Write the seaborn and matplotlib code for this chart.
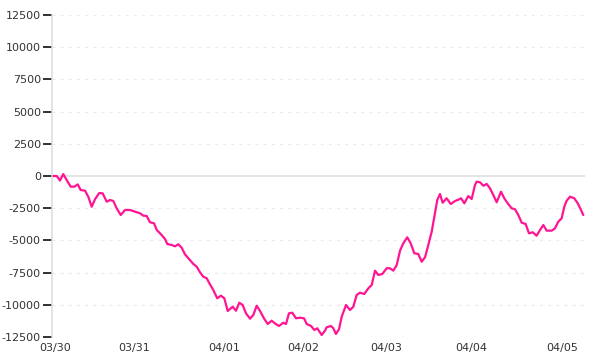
import matplotlib
matplotlib.use("Agg")
import matplotlib.pyplot as plt
import seaborn as sns
import pandas as pd

# time in days since 03/30 00:00 (approx.), value
t = [-0.02, 0.02, 0.059, 0.098, 0.138, 0.186, 0.228, 0.269, 0.304, 0.355, 0.394, 0.434,
     0.473, 0.524, 0.564, 0.612, 0.651, 0.690, 0.730, 0.778, 0.828, 0.888, 0.947, 1.006,
     1.045, 1.085, 1.124, 1.172, 1.204, 1.254, 1.302, 1.329, 1.381, 1.420, 1.459, 1.499,
     1.538, 1.589, 1.637, 1.677, 1.716, 1.755, 1.795, 1.834, 1.873, 1.920, 1.964, 2.004,
     2.044, 2.103, 2.142, 2.181, 2.221, 2.260, 2.308, 2.347, 2.387, 2.426, 2.473, 2.517,
     2.564, 2.612, 2.651, 2.702, 2.734, 2.769, 2.808, 2.852, 2.899, 2.947, 2.979, 3.030,
     3.069, 3.104, 3.156, 3.195, 3.215, 3.266, 3.294, 3.325, 3.361, 3.393, 3.444, 3.491,
     3.530, 3.570, 3.609, 3.660, 3.708, 3.748, 3.787, 3.826, 3.873, 3.925, 3.964, 4.004,
     4.044, 4.083, 4.122, 4.169, 4.209, 4.252, 4.299, 4.339, 4.379, 4.418, 4.458, 4.497,
     4.524, 4.556, 4.588, 4.635, 4.683, 4.734, 4.785, 4.805, 4.844, 4.891, 4.931, 4.970,
     4.990, 5.030, 5.069, 5.109, 5.148, 5.187, 5.227, 5.278, 5.317, 5.357, 5.405, 5.444,
     5.483, 5.523, 5.570, 5.609, 5.653, 5.700, 5.740, 5.779, 5.819, 5.878, 5.917, 5.956,
     5.996, 6.027, 6.055, 6.095, 6.145, 6.186, 6.225, 6.252]
value = [0, 0, -350, 150, -310, -830, -830, -650, -1090, -1140, -1610, -2385,
         -1810, -1320, -1345, -1995, -1865, -1940, -2510, -3030, -2640, -2640, -2770, -2895,
         -3080, -3105, -3595, -3670, -4190, -4525, -4890, -5280, -5355, -5460, -5300, -5565,
         -6080, -6465, -6830, -7040, -7475, -7820, -7940, -8410, -8850, -9495, -9295, -9495,
         -10480, -10150, -10460, -9835, -10015, -10660, -11080, -10790, -10070, -10480, -11050, -11490,
         -11235, -11490, -11645, -11390, -11490, -10660, -10615, -11050, -11000, -11050, -11490, -11645,
         -11955, -11825, -12345, -12010, -11745, -11645, -11825, -12265, -11900, -10925, -10015, -10405,
         -10150, -9240, -9060, -9160, -8720, -8465, -7350, -7685, -7610, -7165, -7165, -7350,
         -6910, -5800, -5225, -4760, -5225, -6000, -6055, -6655, -6310, -5355, -4325, -2895,
         -1865, -1400, -2075, -1730, -2175, -1940, -1810, -1730, -2120, -1555, -1785, -700,
         -440, -490, -755, -620, -955, -1475, -2040, -1220, -1730, -2120, -2510, -2585,
         -3030, -3625, -3725, -4450, -4370, -4635, -4190, -3805, -4245, -4245, -4060, -3550,
         -3285, -2385, -1920, -1605, -1730, -2120, -2640, -3030]

tick_pos = [0.0, 0.935, 2.0, 2.935, 3.917, 4.923, 6.0]
tick_labels = ["03/30", "03/31", "04/01", "04/02", "04/03", "04/04", "04/05"]
y_ticks = [-12500, -10000, -7500, -5000, -2500, 0, 2500, 5000, 7500, 10000, 12500]

df = pd.DataFrame({"t": t, "value": value})

sns.set_style("white")
plt.rcParams["font.family"] = ["DejaVu Sans"]

fig = plt.figure(figsize=(6, 3.6), dpi=100)
ax = fig.add_axes([52/600, 1 - 337/360, (585 - 52)/600, (337 - 15)/360])

for yv in y_ticks:
    if yv == 0:
        ax.axhline(yv, color="#dddddd", lw=1.1, zorder=1)
    else:
        ax.axhline(yv, color="#ececec", lw=0.9, ls=(0, (2.5, 4)), zorder=1)

sns.lineplot(data=df, x="t", y="value", ax=ax, color="#ff1493", lw=1.6, zorder=3)

ax.set_xlim((52 - 55)/84.5, (585 - 55)/84.5)
ax.set_ylim(-12500, 12500)
ax.set_yticks(y_ticks)
ax.set_yticklabels([str(v) for v in y_ticks])
ax.set_xticks(tick_pos)
ax.set_xticklabels(tick_labels)
ax.set_xlabel("")
ax.set_ylabel("")

for s in ["top", "right", "bottom"]:
    ax.spines[s].set_visible(False)
ax.spines["left"].set_color("#dddddd")
ax.spines["left"].set_linewidth(1.1)

ax.tick_params(axis="y", which="major", length=6.5, width=1.3, color="#222222",
               labelsize=8, labelcolor="#333333", pad=1.5, left=True)
ax.tick_params(axis="x", which="major", length=0, labelsize=8, labelcolor="#333333", pad=4)

fig.savefig("out.png", dpi=100)
